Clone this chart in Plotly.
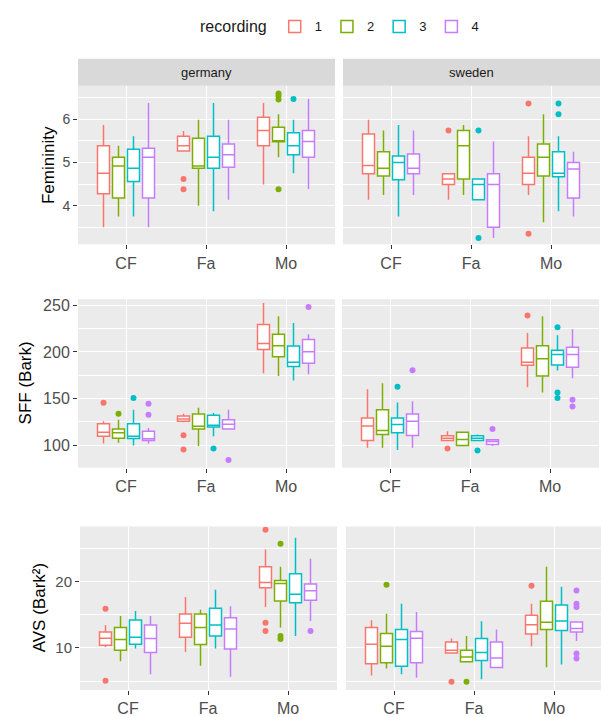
import plotly.graph_objects as go

W, H = 601, 717
CATEGORIES = ["CF", "Fa", "Mo"]
RECORDINGS = ["1", "2", "3", "4"]
COLORS = ["#F8766D", "#7CAE00", "#00BFC4", "#C77CFF"]
COUNTRIES = ["germany", "sweden"]
MEASURES = ["Femininity", "SFF (Bark)", "AVS (Bark²)"]

# rows: recording 1..4 ; columns: CF, Fa, Mo
ger_fem_lo = [[3.50, 5.27, 4.49], [3.75, 4.00, 5.12], [3.75, 3.87, 4.75], [3.50, 4.14, 4.39]]
ger_fem_q1 = [[4.28, 5.27, 5.39], [4.18, 4.87, 5.48], [4.56, 4.87, 5.18], [4.18, 4.89, 5.12]]
ger_fem_med = [[4.75, 5.39, 5.74], [4.92, 4.92, 5.49], [4.87, 5.12, 5.39], [5.12, 5.18, 5.49]]
ger_fem_q3 = [[5.39, 5.61, 6.05], [5.12, 5.56, 5.82], [5.31, 5.61, 5.69], [5.33, 5.43, 5.74]]
ger_fem_hi = [[5.87, 5.73, 6.38], [5.39, 5.99, 6.12], [5.61, 6.38, 5.99], [6.38, 5.99, 6.47]]
ger_fem_out = [[[], [4.62, 4.38], []], [[], [], [6.60, 6.54, 6.46, 4.38]], [[], [], [6.47]], [[], [], []]]

swe_fem_lo = [[4.14, 4.14, 4.25], [4.25, 4.25, 3.62], [3.75, 4.14, 3.87], [4.25, 3.25, 3.75]]
swe_fem_q1 = [[4.74, 4.49, 4.49], [4.69, 4.62, 4.69], [4.60, 4.14, 4.67], [4.74, 3.50, 4.18]]
swe_fem_med = [[4.93, 4.62, 4.75], [4.87, 5.39, 5.12], [5.00, 4.49, 4.75], [4.87, 4.49, 4.85]]
swe_fem_q3 = [[5.66, 4.74, 5.12], [5.25, 5.74, 5.43], [5.15, 4.62, 5.25], [5.20, 4.74, 5.00]]
swe_fem_hi = [[5.99, 4.74, 5.61], [5.74, 5.87, 6.12], [5.87, 4.62, 5.61], [5.74, 5.49, 5.25]]
swe_fem_out = [[[], [5.74], [6.37, 3.35]], [[], [], []], [[], [5.74, 3.25], [6.37, 6.12]], [[], [], []]]

ger_sff_lo = [[101.8, 124.6, 177.2], [102.5, 99.0, 174.3], [99.7, 109.6, 169.3], [101.8, 116.7, 176.1]]
ger_sff_q1 = [[109.6, 125.6, 202.7], [107.5, 117.4, 194.9], [107.1, 119.6, 184.3], [105.0, 117.4, 187.8]]
ger_sff_med = [[113.9, 128.1, 209.1], [113.2, 120.3, 206.6], [109.6, 121.4, 188.9], [106.8, 122.4, 200.2]]
ger_sff_q3 = [[123.1, 131.3, 229.4], [117.4, 133.4, 219.1], [123.1, 132.0, 206.3], [115.0, 127.4, 213.4]]
ger_sff_hi = [[125.6, 133.8, 252.5], [127.4, 140.2, 238.3], [138.0, 134.5, 231.2], [118.5, 138.0, 219.1]]
ger_sff_out = [[[145.5], [110.7, 95.4], []], [[133.8], [], []], [[150.5], [96.5], []], [[144.5, 132.7], [84.0], [248.2]]]

swe_sff_lo = [[97.2, 105.0, 162.2], [97.2, 99.7, 156.5], [94.7, 105.0, 180.0], [97.2, 99.0, 171.8]]
swe_sff_q1 = [[105.0, 105.0, 185.7], [111.4, 99.7, 174.3], [113.2, 105.0, 186.0], [110.3, 100.7, 183.5]]
swe_sff_med = [[120.6, 107.5, 188.9], [115.7, 106.1, 192.8], [122.1, 107.5, 197.4], [125.6, 104.0, 197.4]]
swe_sff_q3 = [[129.2, 110.0, 204.2], [138.0, 113.9, 206.6], [129.2, 110.0, 202.0], [133.4, 105.7, 205.2]]
swe_sff_hi = [[160.1, 115.0, 220.5], [166.5, 114.3, 238.3], [145.9, 111.4, 218.0], [147.0, 105.7, 224.4]]
swe_sff_out = [[[], [96.5], [239.3]], [[], [], []], [[162.6], [94.3], [226.5, 156.5, 150.5]], [[180.3], [117.4], [148.7, 141.6]]]

ger_avs_lo = [[10.15, 9.40, 16.15], [8.00, 7.30, 13.05], [9.90, 9.90, 11.80], [6.05, 5.65, 14.05]]
ger_avs_q1 = [[10.40, 11.60, 19.05], [9.65, 10.50, 17.05], [10.55, 11.80, 16.80], [9.30, 9.85, 17.15]]
ger_avs_med = [[11.45, 13.70, 19.85], [11.25, 13.05, 19.70], [11.60, 13.45, 18.05], [11.40, 12.85, 18.60]]
ger_avs_q3 = [[12.40, 15.10, 22.20], [13.05, 15.10, 20.15], [14.20, 15.95, 21.15], [13.45, 14.55, 19.60]]
ger_avs_hi = [[13.40, 17.65, 24.80], [14.80, 15.75, 22.20], [15.55, 18.75, 26.55], [14.80, 16.25, 23.40]]
ger_avs_out = [[[15.9, 5.05], [], [27.75, 13.8, 12.55]], [[], [], [25.65, 11.8, 11.35]], [[], [], []], [[], [], [12.55]]]

swe_avs_lo = [[5.85, 9.25, 10.25], [6.90, 7.90, 7.10], [6.05, 5.30, 7.50], [5.50, 7.05, 11.05]]
swe_avs_q1 = [[7.60, 9.25, 12.10], [7.75, 7.90, 12.75], [7.25, 8.10, 12.60], [7.75, 7.05, 12.40]]
swe_avs_med = [[10.55, 9.65, 13.50], [10.25, 8.65, 13.85], [11.25, 9.30, 14.05], [11.45, 8.50, 12.90]]
swe_avs_q3 = [[13.05, 10.90, 14.90], [12.15, 9.65, 17.00], [12.75, 11.40, 16.45], [12.45, 10.90, 13.90]]
swe_avs_hi = [[14.15, 11.40, 16.65], [15.15, 11.80, 22.20], [16.65, 14.00, 19.20], [15.40, 12.75, 13.90]]
swe_avs_out = [[[], [4.9], [19.35]], [[19.5], [4.9], []], [[], [], []], [[], [], [18.65, 16.65, 16.15, 9.15, 8.4]]]

PANELS = [
    (ger_fem_lo, ger_fem_q1, ger_fem_med, ger_fem_q3, ger_fem_hi, ger_fem_out),
    (swe_fem_lo, swe_fem_q1, swe_fem_med, swe_fem_q3, swe_fem_hi, swe_fem_out),
    (ger_sff_lo, ger_sff_q1, ger_sff_med, ger_sff_q3, ger_sff_hi, ger_sff_out),
    (swe_sff_lo, swe_sff_q1, swe_sff_med, swe_sff_q3, swe_sff_hi, swe_sff_out),
    (ger_avs_lo, ger_avs_q1, ger_avs_med, ger_avs_q3, ger_avs_hi, ger_avs_out),
    (swe_avs_lo, swe_avs_q1, swe_avs_med, swe_avs_q3, swe_avs_hi, swe_avs_out),
]

# layout in pixels: (x0, x1) per panel, (top, bottom) per row
PANEL_X = [[(78, 335), (343, 600)], [(78, 335), (342, 599)], [(80, 337), (346, 601)]]
ROW_Y = [(84, 243), (298, 467), (526, 690)]
Y_RANGES = [(3.106, 6.778), (75.8, 256.7), (3.66, 28.25)]
Y_DTICK = [1, 50, 10]
YTICK_SIZE = [14, 16, 15]
YTITLE_X = [48, 25, 39]

DODGE = 0.75
BOXW = 0.15

fig = go.Figure()
layout = {}

for p, (lo, q1, med, q3, hi, out) in enumerate(PANELS):
    row, col = divmod(p, 2)
    idx = "" if p == 0 else str(p + 1)
    xa, ya = "x" + idx, "y" + idx
    for k in range(4):
        off = (k + 0.5) * DODGE / 4 - DODGE / 2
        xs = [i + 1 + off for i in range(len(CATEGORIES))]
        fig.add_trace(go.Box(
            x=xs, q1=q1[k], median=med[k], q3=q3[k], lowerfence=lo[k], upperfence=hi[k],
            width=BOXW, whiskerwidth=0, boxpoints=False, fillcolor="white",
            line=dict(color=COLORS[k], width=1.5), name=RECORDINGS[k],
            legendgroup=RECORDINGS[k], showlegend=(p == 0), xaxis=xa, yaxis=ya,
            hoverinfo="skip"))
        ox, oy = [], []
        for i in range(len(CATEGORIES)):
            for v in out[k][i]:
                ox.append(xs[i])
                oy.append(v)
        if ox:
            fig.add_trace(go.Scatter(
                x=ox, y=oy, mode="markers", marker=dict(color=COLORS[k], size=6),
                showlegend=False, xaxis=xa, yaxis=ya, hoverinfo="skip"))

    x0, x1 = PANEL_X[row][col]
    top, bot = ROW_Y[row]
    xr1 = 0.4 + (x1 - x0) / 80.0
    layout["xaxis" + idx] = dict(
        domain=[x0 / W, x1 / W], range=[0.4, xr1], anchor=ya,
        tickvals=[1, 2, 3], ticktext=CATEGORIES, showgrid=True, gridcolor="white",
        gridwidth=1.2, zeroline=False, showline=False, ticks="outside", ticklen=4,
        tickcolor="#333333", tickwidth=1, tickfont=dict(size=16, color="#4D4D4D"))
    layout["yaxis" + idx] = dict(
        domain=[1 - bot / H, 1 - top / H], range=list(Y_RANGES[row]), anchor=xa,
        dtick=Y_DTICK[row], tick0=0, showgrid=True, gridcolor="white", gridwidth=1.2,
        zeroline=False, showline=False,
        minor=dict(dtick=Y_DTICK[row] / 2, tick0=0, showgrid=True, gridcolor="white", gridwidth=0.6),
        ticks="outside" if col == 0 else "", ticklen=4, tickcolor="#333333", tickwidth=1,
        showticklabels=(col == 0), tickfont=dict(size=YTICK_SIZE[row], color="#4D4D4D"))

shapes = []
annotations = []
for col, name in enumerate(COUNTRIES):
    x0, x1 = PANEL_X[0][col]
    shapes.append(dict(type="rect", xref="paper", yref="paper", x0=x0 / W, x1=x1 / W,
                       y0=1 - 84 / H, y1=1 - 57 / H, fillcolor="#D9D9D9", line=dict(width=0),
                       layer="below"))
    annotations.append(dict(text=name, xref="paper", yref="paper", x=(x0 + x1) / 2 / W,
                            y=1 - 70.5 / H, showarrow=False, xanchor="center", yanchor="middle",
                            font=dict(size=13, color="#1A1A1A")))
for row, title in enumerate(MEASURES):
    top, bot = ROW_Y[row]
    annotations.append(dict(text=title, xref="paper", yref="paper", x=YTITLE_X[row] / W,
                            y=1 - (top + bot) / 2 / H, showarrow=False, textangle=-90,
                            xanchor="center", yanchor="middle",
                            font=dict(size=17, color="black")))

fig.update_layout(
    width=W, height=H, margin=dict(l=0, r=0, t=0, b=0),
    paper_bgcolor="white", plot_bgcolor="#EBEBEB",
    font=dict(family="Liberation Sans, Arial, sans-serif", color="#1A1A1A"),
    boxmode="overlay", shapes=shapes, annotations=annotations,
    legend=dict(orientation="h", x=198 / W, xanchor="left", y=1 - 25 / H, yanchor="middle",
                title=dict(text="recording", font=dict(size=16), side="left"),
                font=dict(size=13), bgcolor="rgba(0,0,0,0)", itemwidth=30),
    **layout)

fig.write_html("out.html", config={"displayModeBar": False},
               post_script="document.body.style.margin='0';document.body.style.overflow='hidden';")
